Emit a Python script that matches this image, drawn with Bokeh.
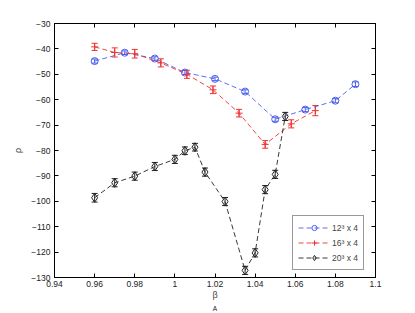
import numpy as np
from bokeh.plotting import figure
from bokeh.models import (ColumnDataSource, Whisker, TeeHead, FixedTicker, LinearAxis,
                          Legend, LegendItem, Title, Range1d)
from bokeh.embed import file_html
from bokeh.resources import INLINE

# ---- data ----
x12 = [0.96, 0.975, 0.99, 1.005, 1.02, 1.035, 1.05, 1.065, 1.08, 1.09]
y12 = [-44.8, -41.5, -43.8, -49.3, -51.8, -56.8, -67.7, -63.9, -60.4, -53.9]
e12 = [0.8, 0.7, 0.7, 0.8, 0.7, 0.7, 0.8, 0.8, 0.8, 0.9]

x16 = [0.96, 0.97, 0.98, 0.993, 1.006, 1.019, 1.032, 1.045, 1.058, 1.07]
y16 = [-39.2, -41.4, -41.9, -45.5, -50.0, -56.1, -65.3, -77.6, -69.5, -64.3]
e16 = [1.4, 1.8, 1.7, 1.6, 1.6, 1.5, 1.5, 1.5, 1.6, 2.0]

x20 = [0.96, 0.97, 0.98, 0.99, 1.0, 1.005, 1.01, 1.015, 1.025, 1.035, 1.04, 1.045, 1.05, 1.055]
y20 = [-98.6, -92.7, -90.1, -86.3, -83.5, -80.1, -78.7, -88.5, -100.1, -127.2, -120.3, -95.4, -89.4, -66.6]
e20 = [1.7, 1.6, 1.6, 1.6, 1.6, 1.5, 1.5, 1.6, 1.6, 1.6, 1.6, 1.6, 1.6, 1.6]

labels = ["12\u00b3 x 4", "16\u00b3 x 4", "20\u00b3 x 4"]
xticks = [0.94, 0.96, 0.98, 1.0, 1.02, 1.04, 1.06, 1.08, 1.1]
xtick_labels = ["0.94", "0.96", "0.98", "1", "1.02", "1.04", "1.06", "1.08", "1.1"]
yticks = [-130, -120, -110, -100, -90, -80, -70, -60, -50, -40, -30]

FONT = "Liberation Sans"
FS = "8.5px"

p = figure(frame_width=321, frame_height=254, output_backend="svg", toolbar_location=None,
           x_range=Range1d(0.94, 1.1), y_range=Range1d(-130, -30),
           min_border_left=54, min_border_top=23, min_border_right=32, min_border_bottom=30,
           background_fill_color="white", border_fill_color="white")
p.xgrid.visible = False
p.ygrid.visible = False
p.outline_line_color = "black"

def style_axis(ax):
    ax.major_tick_in = 4
    ax.major_tick_out = 0
    ax.minor_tick_line_color = None
    ax.axis_line_color = "black"
    ax.major_tick_line_color = "black"
    ax.major_label_text_font = FONT
    ax.major_label_text_font_size = FS
    ax.major_label_text_color = "#222222"
    ax.major_label_standoff = 4

p.xaxis.ticker = FixedTicker(ticks=xticks)
p.yaxis.ticker = FixedTicker(ticks=yticks)
p.xaxis.major_label_overrides = {t: l for t, l in zip(xticks, xtick_labels)}
p.yaxis.major_label_overrides = {t: ("\u2212%d" % abs(t)) for t in yticks}
style_axis(p.xaxis[0])
style_axis(p.yaxis[0])
p.xaxis.major_label_standoff = 3
p.xaxis.axis_label = "\u03b2"
p.yaxis.axis_label = "\u03c1"
for ax in (p.xaxis[0], p.yaxis[0]):
    ax.axis_label_text_font = FONT
    ax.axis_label_text_font_size = "9px"
    ax.axis_label_text_font_style = "normal"
p.xaxis.axis_label_standoff = 0
p.yaxis.axis_label_standoff = 5

top = LinearAxis(ticker=FixedTicker(ticks=xticks),
                 major_label_overrides={t: "" for t in xticks})
right = LinearAxis(ticker=FixedTicker(ticks=yticks),
                   major_label_overrides={t: "" for t in yticks})
style_axis(top)
style_axis(right)
top.major_label_standoff = 0
right.major_label_standoff = 0
p.add_layout(top, "above")
p.add_layout(right, "right")

series = [
    (x12, y12, e12, "#4a5ef0", "circle"),
    (x16, y16, e16, "#f03030", "cross"),
    (x20, y20, e20, "#222222", "diamond"),
]
items = []
for (xs, ys, es, col, mk), lab in zip(series, labels):
    src = ColumnDataSource(dict(x=xs, y=ys,
                                lo=[a - b for a, b in zip(ys, es)],
                                hi=[a + b for a, b in zip(ys, es)]))
    ln = p.line("x", "y", source=src, line_color=col, line_width=0.9, line_dash="5 3")
    w = Whisker(source=src, base="x", upper="hi", lower="lo", line_color=col, line_width=1,
                upper_head=TeeHead(size=6, line_color=col, line_width=1),
                lower_head=TeeHead(size=6, line_color=col, line_width=1))
    p.add_layout(w)
    if mk == "cross":
        m = p.scatter("x", "y", source=src, marker="cross", size=7, line_color=col, line_width=1)
    elif mk == "circle":
        m = p.scatter("x", "y", source=src, marker="circle", size=7, line_color=col,
                      fill_color=None, line_width=1)
    else:
        m = p.scatter("x", "y", source=src, marker="diamond", size=9, line_color=col,
                      fill_color=None, line_width=1)
    items.append(LegendItem(label=lab, renderers=[ln, m]))

legend = Legend(items=items, location=(238, 7), orientation="vertical",
                label_text_font=FONT, label_text_font_size=FS,
                border_line_color="#333333", border_line_width=1,
                background_fill_color="white", background_fill_alpha=1,
                glyph_width=32, glyph_height=13, label_height=13,
                spacing=2, padding=5, margin=0, label_standoff=2)
p.add_layout(legend, "center")

sub = Title(text="A", align="center", offset=4, standoff=0,
            text_font=FONT, text_font_size="6.5px", text_color="#222222",
            text_font_style="normal")
p.add_layout(sub, "below")

open("out.html", "w").write(file_html(p, INLINE))
